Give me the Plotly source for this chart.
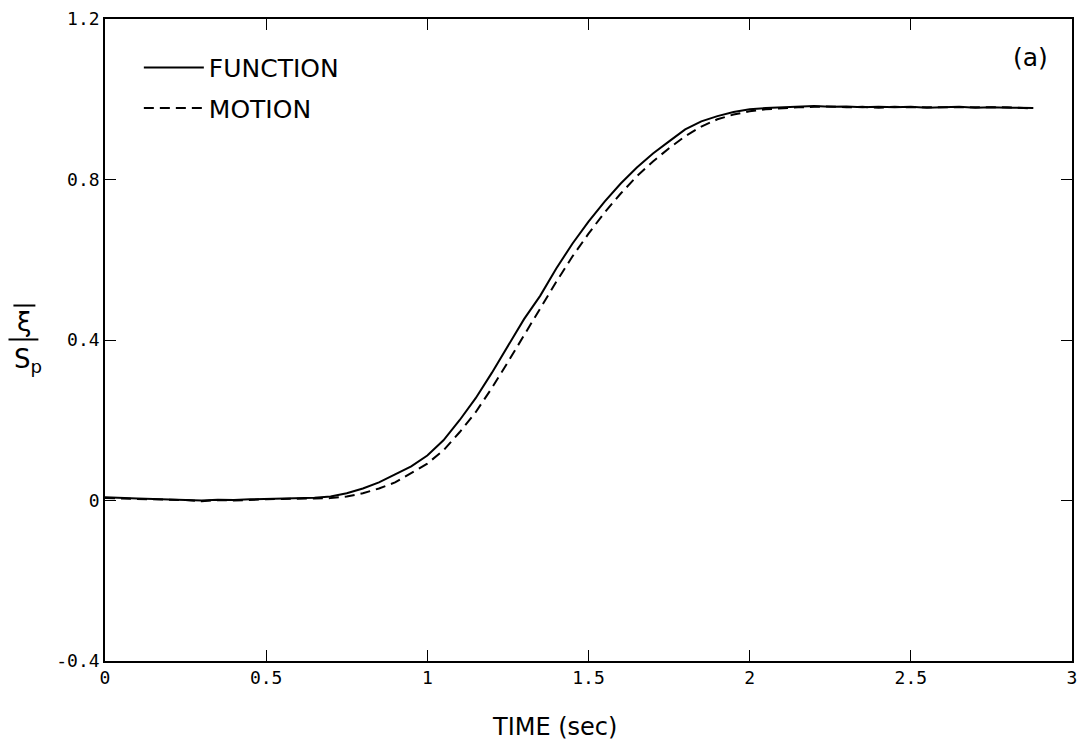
import plotly.graph_objects as go

# time (sec)
t = [0.00, 0.05, 0.10, 0.15, 0.20, 0.25, 0.30, 0.35, 0.40, 0.45,
     0.50, 0.55, 0.60, 0.65, 0.70, 0.75, 0.80, 0.85, 0.90, 0.95,
     1.00, 1.05, 1.10, 1.15, 1.20, 1.25, 1.30, 1.35, 1.40, 1.45,
     1.50, 1.55, 1.60, 1.65, 1.70, 1.75, 1.80, 1.85, 1.90, 1.95,
     2.00, 2.05, 2.10, 2.15, 2.20, 2.25, 2.30, 2.35, 2.40, 2.45,
     2.50, 2.55, 2.60, 2.65, 2.70, 2.75, 2.80, 2.85, 2.88]

function_vals = [0.008, 0.006, 0.005, 0.004, 0.003, 0.002, 0.000, 0.002, 0.001, 0.003,
                 0.004, 0.005, 0.005, 0.007, 0.010, 0.018, 0.030, 0.045, 0.065, 0.085,
                 0.112, 0.150, 0.200, 0.255, 0.318, 0.385, 0.452, 0.510, 0.578, 0.640,
                 0.695, 0.745, 0.790, 0.830, 0.865, 0.895, 0.925, 0.945, 0.958, 0.968,
                 0.975, 0.978, 0.980, 0.982, 0.983, 0.981, 0.982, 0.980, 0.981, 0.980,
                 0.981, 0.979, 0.980, 0.981, 0.979, 0.980, 0.979, 0.978, 0.978]

motion_vals = [0.006, 0.005, 0.004, 0.003, 0.002, 0.001, -0.002, 0.001, 0.000, 0.002,
               0.003, 0.004, 0.004, 0.005, 0.006, 0.010, 0.018, 0.030, 0.045, 0.068,
               0.092, 0.125, 0.170, 0.220, 0.280, 0.345, 0.412, 0.478, 0.545, 0.608,
               0.665, 0.718, 0.765, 0.808, 0.845, 0.878, 0.908, 0.932, 0.950, 0.962,
               0.970, 0.975, 0.978, 0.980, 0.981, 0.982, 0.980, 0.981, 0.979, 0.981,
               0.980, 0.980, 0.979, 0.980, 0.980, 0.979, 0.980, 0.978, 0.977]

x_ticks = [0, 0.5, 1, 1.5, 2, 2.5, 3]
x_ticktext = ["0", "0.5", "1", "1.5", "2", "2.5", "3"]
y_ticks = [-0.4, 0, 0.4, 0.8, 1.2]
y_ticktext = ["-0.4", "0", "0.4", "0.8", "1.2"]

FONT = "DejaVu Sans"
TICKFONT = "DejaVu Sans Mono"

fig = go.Figure()
fig.add_trace(go.Scatter(x=t, y=function_vals, mode="lines", name="FUNCTION",
                         legendgroup="f",
                         line=dict(color="black", width=2)))
fig.add_trace(go.Scatter(x=t, y=motion_vals, mode="lines", name="MOTION",
                         legendgroup="m",
                         line=dict(color="black", width=2, dash="10px,6px")))

axis_common = dict(showline=True, linecolor="black", linewidth=1.6, mirror="ticks",
                   ticks="inside", ticklen=11, tickwidth=1.2, tickcolor="black",
                   showgrid=False, zeroline=False,
                   tickfont=dict(family=TICKFONT, size=18, color="black"))

fig.update_xaxes(range=[0, 3], tickmode="array", tickvals=x_ticks, ticktext=x_ticktext,
                 **axis_common)
fig.update_yaxes(range=[-0.4, 1.2], tickmode="array", tickvals=y_ticks, ticktext=y_ticktext,
                 **axis_common)

fig.update_layout(
    width=1085, height=743,
    margin=dict(l=105, r=8, t=18, b=82),
    paper_bgcolor="white", plot_bgcolor="white",
    font=dict(family=FONT, color="black"),
    showlegend=True,
    legend=dict(x=0.035, y=0.96, xanchor="left", yanchor="top",
                bgcolor="rgba(0,0,0,0)", borderwidth=0,
                font=dict(family=FONT, size=25, color="black"),
                itemwidth=60, tracegroupgap=5),
    annotations=[
        dict(text="TIME (sec)", xref="paper", yref="paper", x=0.465, y=-0.103,
             xanchor="center", yanchor="middle", showarrow=False,
             font=dict(family=FONT, size=24, color="black")),
        dict(text="(a)", xref="paper", yref="paper", x=0.957, y=0.94,
             xanchor="center", yanchor="middle", showarrow=False,
             font=dict(family=FONT, size=25, color="black")),
        dict(text="ξ", xref="paper", yref="paper", x=-0.083, y=0.528,
             xanchor="center", yanchor="middle", showarrow=False,
             font=dict(family=FONT, size=26, color="black")),
        dict(text="S<sub>p</sub>", xref="paper", yref="paper", x=-0.080, y=0.468,
             xanchor="center", yanchor="middle", showarrow=False,
             font=dict(family=FONT, size=26, color="black")),
    ],
    shapes=[
        dict(type="line", xref="paper", yref="paper", x0=-0.0998, x1=-0.0689,
             y0=0.5008, y1=0.5008, line=dict(color="black", width=2)),
        dict(type="line", xref="paper", yref="paper", x0=-0.0947, x1=-0.072,
             y0=0.5537, y1=0.5537, line=dict(color="black", width=2)),
    ],
)

fig.write_html("out.html")
